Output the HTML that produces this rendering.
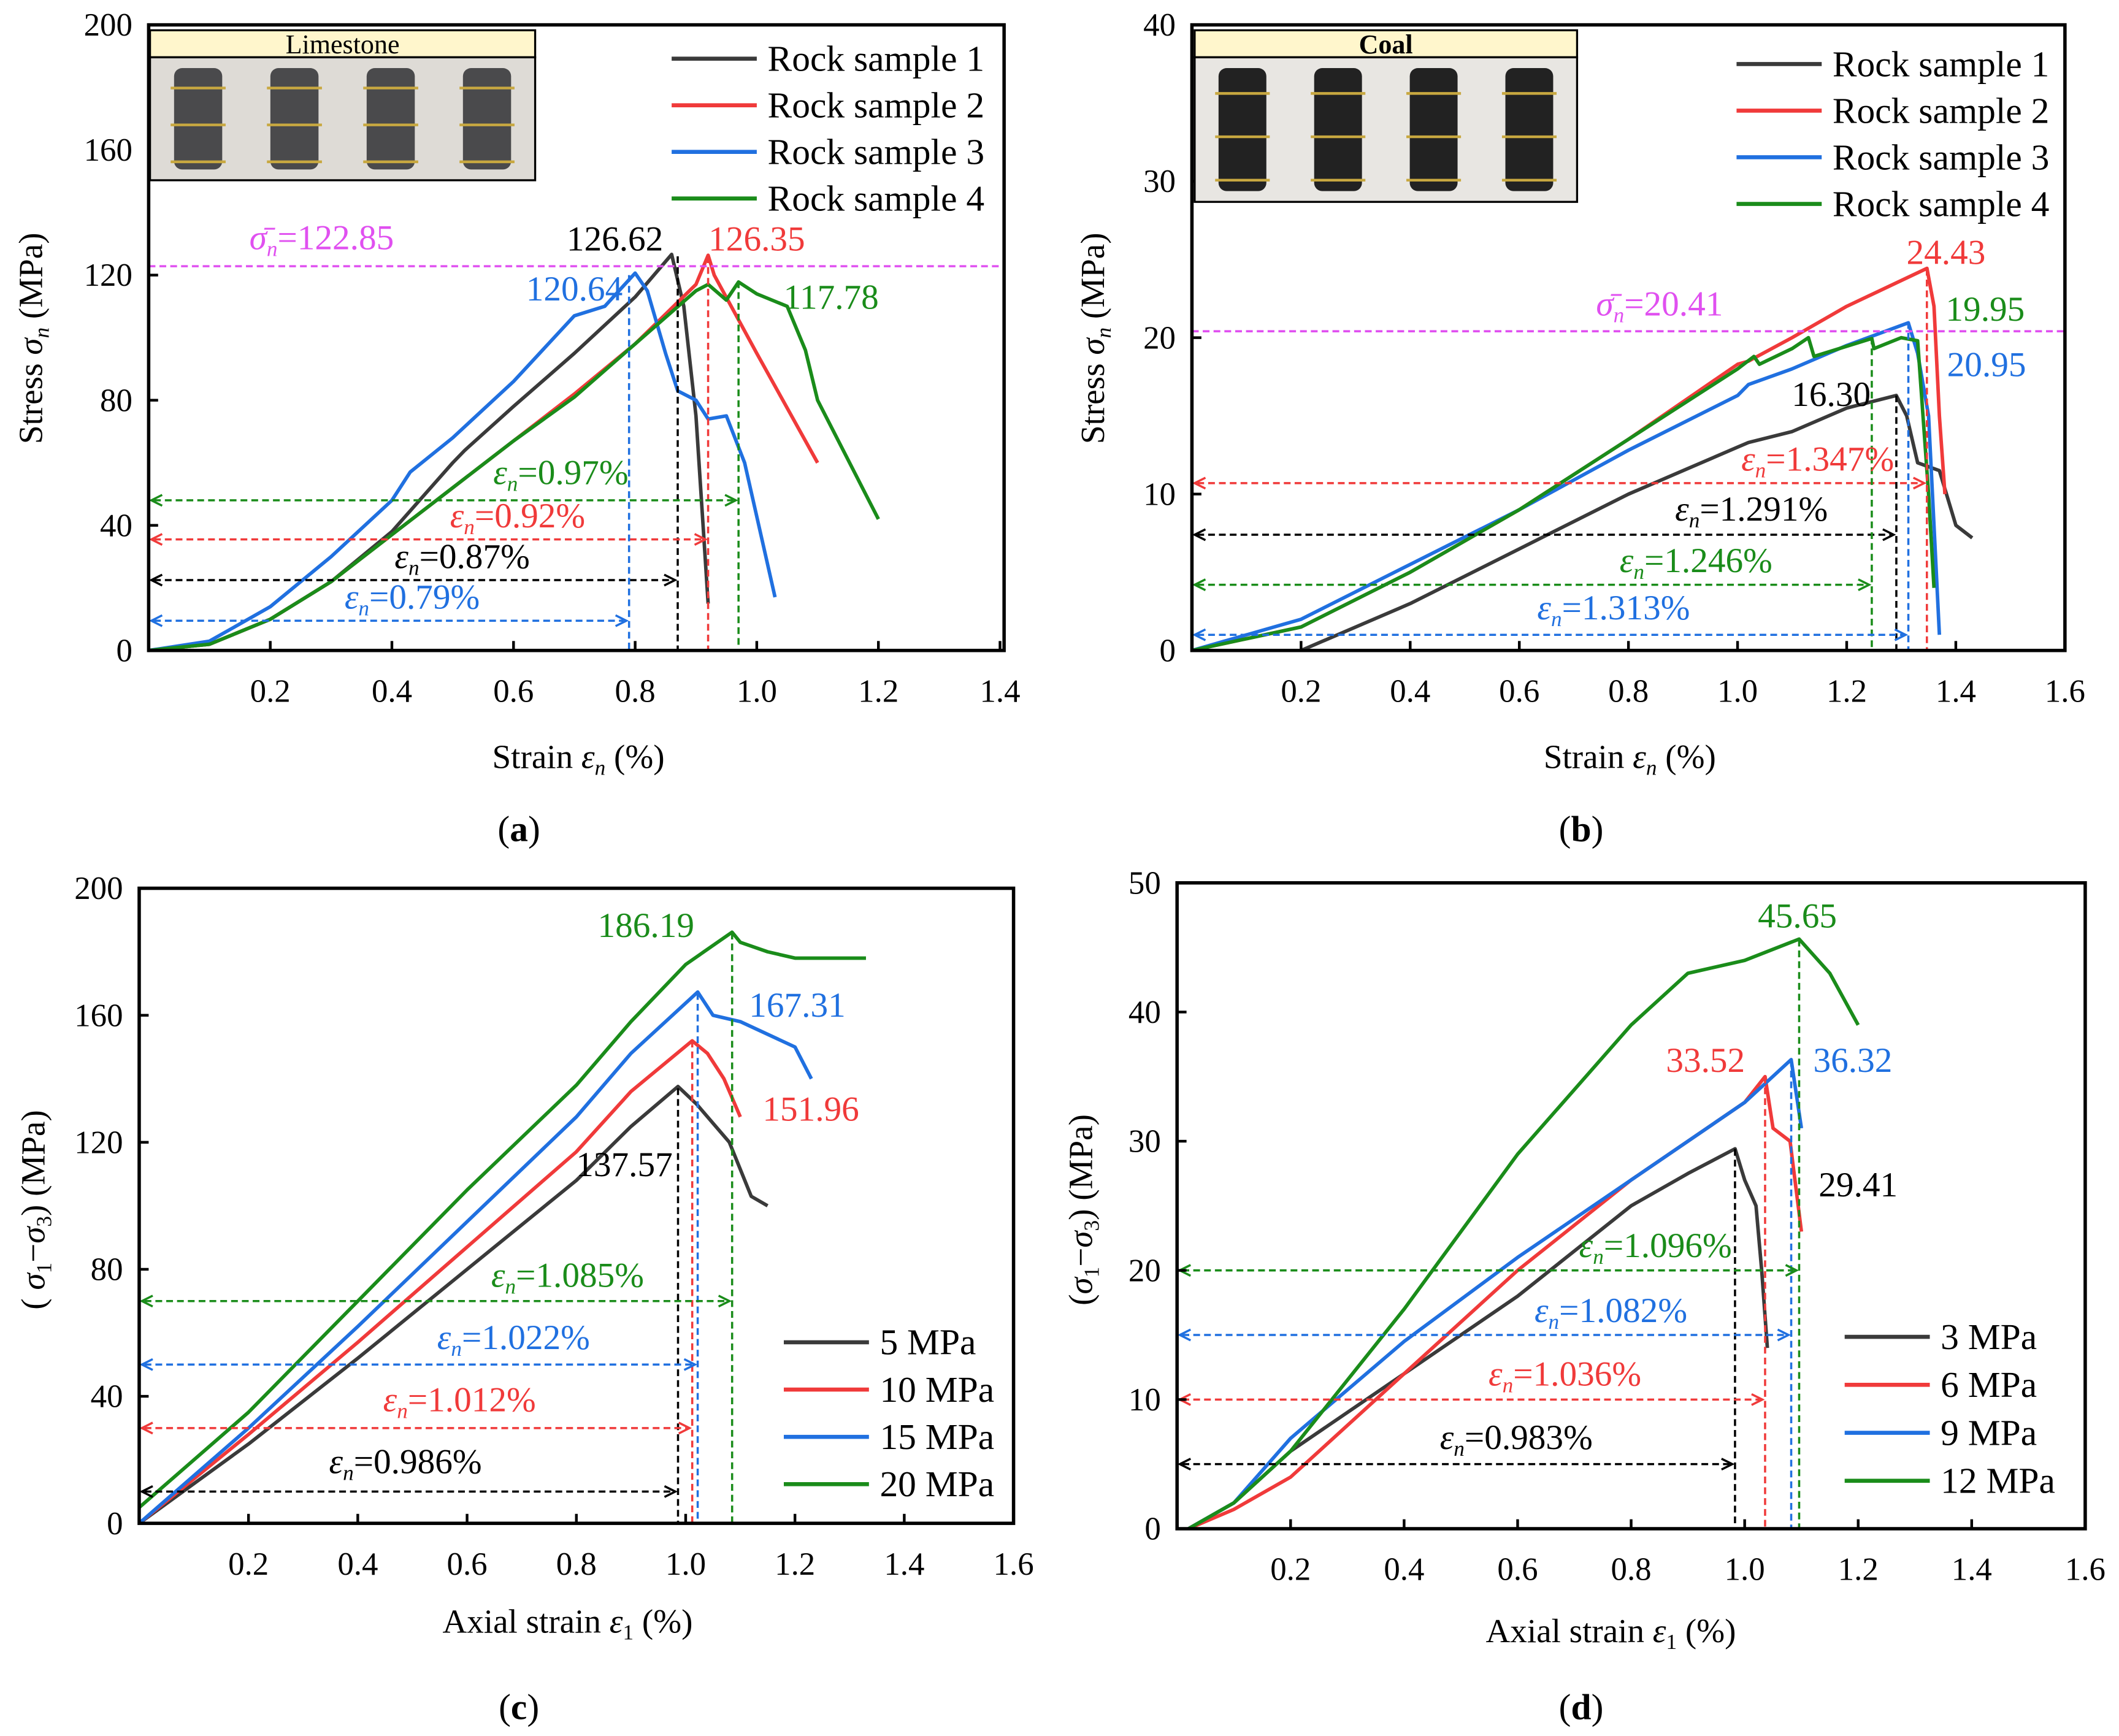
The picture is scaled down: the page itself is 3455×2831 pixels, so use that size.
<!DOCTYPE html>
<html><head><meta charset="utf-8">
<style>
html,body{margin:0;padding:0;background:#fff;}
svg{display:block;}
text{font-family:"Liberation Serif",serif;}
</style></head>
<body>
<svg id="fig" xmlns="http://www.w3.org/2000/svg" width="3455" height="2831" viewBox="0 0 1568 1284" font-family="Liberation Serif, serif"></svg>
<script>
// ---------- DATA ----------
const aS1x=[0,0.1,0.2,0.3,0.4,0.5,0.52,0.6,0.7,0.8,0.86,0.88,0.9,0.92];
const aS1y=[0,2,10,22,38,60,64,78,95,113,126.62,110,75,15];
const aS2x=[0,0.1,0.2,0.3,0.4,0.5,0.6,0.7,0.8,0.9,0.92,0.93,1.0,1.1];
const aS2y=[0,2,10,22,37,52,67,82,98,117,126.35,120,95,60];
const aS3x=[0,0.1,0.2,0.3,0.4,0.43,0.5,0.6,0.7,0.75,0.8,0.82,0.85,0.87,0.9,0.92,0.95,0.98,1.03];
const aS3y=[0,3,14,30,48,57,68,86,107,110,120.64,115,95,83,80,74,75,60,17];
const aS4x=[0,0.1,0.2,0.3,0.4,0.5,0.6,0.7,0.8,0.9,0.92,0.95,0.97,1.0,1.05,1.08,1.1,1.2];
const aS4y=[0,2,10,22,37,52,67,81,98,115,117,112,117.78,114,110,96,80,42];
const bS1x=[0.2,0.4,0.6,0.8,1.0,1.02,1.1,1.2,1.291,1.31,1.33,1.37,1.4,1.43];
const bS1y=[0,3,6.5,10,13,13.3,14,15.5,16.3,15,12,11.5,8,7.2];
const bS2x=[0,0.2,0.4,0.6,0.8,1.0,1.02,1.1,1.2,1.347,1.36,1.37,1.38];
const bS2y=[0,1.5,5,9,13.5,18.3,18.5,20,22,24.43,22,15,10];
const bS3x=[0,0.2,0.4,0.6,0.8,1.0,1.02,1.1,1.2,1.313,1.33,1.35,1.37];
const bS3y=[0,2,5.5,9,12.8,16.3,17,18,19.5,20.95,19,15,1];
const bS4x=[0,0.2,0.4,0.6,0.8,1.0,1.03,1.04,1.1,1.13,1.14,1.246,1.25,1.3,1.33,1.35,1.36];
const bS4y=[0,1.5,5,9,13.5,18,18.8,18.3,19.3,20,18.8,19.95,19.3,20,19.8,10,4];
const c5x=[0,0.2,0.4,0.6,0.8,0.9,0.986,1.02,1.08,1.12,1.15];
const c5y=[0,25,52,80,108,125,137.57,132,120,103,100];
const c10x=[0,0.2,0.4,0.6,0.8,0.9,1.012,1.04,1.07,1.1];
const c10y=[0,28,57,87,117,136,151.96,148,140,128];
const c15x=[0,0.2,0.4,0.6,0.8,0.9,1.022,1.05,1.1,1.2,1.23];
const c15y=[0,30,62,95,128,148,167.31,160,158,150,140];
const c20x=[0,0.2,0.4,0.6,0.8,0.9,1.0,1.085,1.1,1.15,1.2,1.3,1.33];
const c20y=[5,35,70,105,138,158,176,186.19,183,180,178,178,178];
const d3x=[0.02,0.1,0.2,0.4,0.6,0.8,0.9,0.983,1.0,1.02,1.03,1.04];
const d3y=[0,2,6,12,18,25,27.5,29.41,27,25,20,14];
const d6x=[0.02,0.1,0.2,0.4,0.6,0.8,1.0,1.036,1.05,1.08,1.1];
const d6y=[0,1.5,4,12,20,27,33,35,31,30,23];
const d9x=[0.02,0.1,0.2,0.4,0.6,0.8,1.0,1.082,1.1];
const d9y=[0,2,7,14.5,21,27,33,36.32,31];
const d12x=[0.02,0.1,0.2,0.4,0.6,0.8,0.9,1.0,1.096,1.15,1.2];
const d12y=[0,2,6,17,29,39,43,44,45.65,43,39];
const aTicksX=[0.2,0.4,0.6,0.8,1.0,1.2,1.4];
const aTicksY=[0,40,80,120,160,200];
const bTicksX=[0.2,0.4,0.6,0.8,1.0,1.2,1.4,1.6];
const bTicksY=[0,10,20,30,40];
const cTicksY=[0,40,80,120,160,200];
const dTicksY=[0,10,20,30,40,50];
const legendA=["Rock sample 1","Rock sample 2","Rock sample 3","Rock sample 4"];
const legendC=["5 MPa","10 MPa","15 MPa","20 MPa"];
const legendD=["3 MPa","6 MPa","9 MPa","12 MPa"];

const K="#3a3a3a",R="#f03a3a",B="#2070e0",G="#1a8c1a",M="#e050f0";
const NS="http://www.w3.org/2000/svg";
const FF="Liberation Serif, serif";
const svg=document.getElementById('fig');
function el(tag,attrs,parent){const e=document.createElementNS(NS,tag);for(const k in attrs)e.setAttribute(k,attrs[k]);(parent||svg).appendChild(e);return e;}
function txt(x,y,s,size,fill,anchor,name,parent){const t=el('text',{x:x,y:y,'font-size':size,'font-family':FF,fill:fill||'#000','text-anchor':anchor||'start'},parent);t.textContent=s;


return t;}
function richTxt(x,y,html,size,fill,anchor,name){const t=el('text',{x:x,y:y,'font-size':size,'font-family':FF,fill:fill,'text-anchor':anchor||'start'});t.innerHTML=html;


return t;}

function panel(p){
  const g=el('g',{});
  
  
  const sx=v=>p.x0+(v-0)/(p.xmax)*(p.x1-p.x0);
  const sy=v=>p.y0-(v)/(p.ymax)*(p.y0-p.y1);
  p.series.forEach((s,i)=>{
    const pts=s.x.map((v,j)=>sx(v).toFixed(1)+','+sy(s.y[j]).toFixed(1)).join(' ');
    const pl=el('polyline',{points:pts,fill:'none',stroke:s.c,'stroke-width':2.6,'stroke-linejoin':'round'},g);
    
    
  });
  p.marks.forEach((m,i)=>{
    const xx=sx(m.x),yy=sy(m.y);
    const ln=el('path',{d:`M${p.x0+4},${yy} L${xx-4},${yy} M${xx},${sy(m.top)} L${xx},${p.y0}`,stroke:m.c,'stroke-width':1.6,'stroke-dasharray':'5,3',fill:'none'},g);
    
    
    el('path',{d:`M${p.x0+10},${yy-4} L${p.x0+2},${yy} L${p.x0+10},${yy+4} M${xx-10},${yy-4} L${xx-2},${yy} L${xx-10},${yy+4}`,stroke:m.c,'stroke-width':1.6,fill:'none'},g);
  });
  if(p.mean!==undefined){
    const mm=el('line',{x1:p.x0,x2:p.x1,y1:sy(p.mean),y2:sy(p.mean),stroke:M,'stroke-width':1.6,'stroke-dasharray':'5,3'},g);
    
    
  }
  const fr=el('rect',{x:p.x0,y:p.y1,width:p.x1-p.x0,height:p.y0-p.y1,fill:'none',stroke:'#000','stroke-width':2.5},g);
  
  
  p.tx.forEach(v=>{const X=sx(v);el('line',{x1:X,x2:X,y1:p.y0,y2:p.y0-7,stroke:'#000','stroke-width':2},g);
    txt(X,p.y0+38,v.toFixed(1),24,'#000','middle',p.name+'-x-tick-'+v,g);});
  p.ty.forEach(v=>{const Y=sy(v);el('line',{x1:p.x0,x2:p.x0+7,y1:Y,y2:Y,stroke:'#000','stroke-width':2},g);
    txt(p.x0-12,Y+8,String(v),24,'#000','end',p.name+'-y-tick-'+v,g);});
  p.leg.forEach((s,i)=>{const y=p.ly+i*p.ldy;
    const l=el('line',{x1:p.lx,x2:p.lx+63,y1:y,y2:y,stroke:p.series[i].c,'stroke-width':3},g);
    
    
    txt(p.lx+71,y+9,s,27,'#000','start',p.name+'-legend-entry-'+(i+1),g);});
}
function photo(x,y,w,h,label,coal,name){
  const g=el('g',{});
  
  
  el('rect',{x:x,y:y,width:w,height:20,fill:'#fff6cc',stroke:'#000','stroke-width':1.5},g);
  const t=txt(x+w/2,y+17,label,20,'#000','middle',name+'-label',g);
  if(coal)t.setAttribute('font-weight','bold');
  el('rect',{x:x,y:y+20,width:w,height:h-20,fill:coal?'#e8e6e2':'#dedbd6',stroke:'#000','stroke-width':1.5},g);
  for(let i=0;i<4;i++){const cx=x+w*(i+0.5)/4;
    el('rect',{x:cx-w/16,y:y+28,width:w/8,height:h-36,rx:6,fill:coal?'#222':'#4a4a4c'},g);
    [0.25,0.55,0.85].forEach(f=>el('line',{x1:cx-w/14,x2:cx+w/14,y1:y+20+(h-20)*f,y2:y+20+(h-20)*f,stroke:'#c8a840','stroke-width':2},g));}
}

const pa={name:'panel-a',x0:110,x1:743,y0:481,y1:18,xmax:1.4067,ymax:200,tx:aTicksX,ty:aTicksY,mean:122.85,
 series:[{x:aS1x,y:aS1y,c:K},{x:aS2x,y:aS2y,c:R},{x:aS3x,y:aS3y,c:B},{x:aS4x,y:aS4y,c:G}],
 marks:[{x:0.87,y:22.5,top:126,c:'#000'},{x:0.92,y:35.5,top:126,c:R},{x:0.97,y:48,top:118,c:G},{x:0.79,y:9.5,top:120,c:B}],
 leg:legendA,lx:497,ly:43,ldy:34.5};
panel(pa);
photo(111,22,285,111,'Limestone',false,'limestone-photo');
const pb={name:'panel-b',x0:882,x1:1528,y0:481,y1:18,xmax:1.6,ymax:40,tx:bTicksX,ty:bTicksY,mean:20.41,
 series:[{x:bS1x,y:bS1y,c:K},{x:bS2x,y:bS2y,c:R},{x:bS3x,y:bS3y,c:B},{x:bS4x,y:bS4y,c:G}],
 marks:[{x:1.347,y:10.7,top:24.4,c:R},{x:1.291,y:7.4,top:16.3,c:'#000'},{x:1.246,y:4.2,top:20,c:G},{x:1.313,y:1.0,top:21,c:B}],
 leg:legendA,lx:1285,ly:47,ldy:34.5};
panel(pb);
photo(884,22,283,127,'Coal',true,'coal-photo');
const pc={name:'panel-c',x0:103,x1:750,y0:1127,y1:657,xmax:1.6,ymax:200,tx:bTicksX,ty:cTicksY,
 series:[{x:c5x,y:c5y,c:K},{x:c10x,y:c10y,c:R},{x:c15x,y:c15y,c:B},{x:c20x,y:c20y,c:G}],
 marks:[{x:0.986,y:10,top:137,c:'#000'},{x:1.012,y:30,top:152,c:R},{x:1.022,y:50,top:167,c:B},{x:1.085,y:70,top:186,c:G}],
 leg:legendC,lx:580,ly:993,ldy:35};
panel(pc);
const pd={name:'panel-d',x0:871,x1:1543,y0:1131,y1:653,xmax:1.6,ymax:50,tx:bTicksX,ty:dTicksY,
 series:[{x:d3x,y:d3y,c:K},{x:d6x,y:d6y,c:R},{x:d9x,y:d9y,c:B},{x:d12x,y:d12y,c:G}],
 marks:[{x:0.983,y:5,top:29.4,c:'#000'},{x:1.036,y:10,top:35,c:R},{x:1.082,y:15,top:36.3,c:B},{x:1.096,y:20,top:45.6,c:G}],
 leg:legendD,lx:1365,ly:989,ldy:35.5};
panel(pd);

richTxt(428,568,'Strain <tspan font-style="italic">ε</tspan><tspan font-size="16" dy="5" font-style="italic">n</tspan><tspan dy="-5"> (%)</tspan>',25,'#000','middle','panel-a-x-axis-title');
richTxt(1206,568,'Strain <tspan font-style="italic">ε</tspan><tspan font-size="16" dy="5" font-style="italic">n</tspan><tspan dy="-5"> (%)</tspan>',25,'#000','middle','panel-b-x-axis-title');
richTxt(420,1208,'Axial strain <tspan font-style="italic">ε</tspan><tspan font-size="16" dy="5">1</tspan><tspan dy="-5"> (%)</tspan>',25,'#000','middle','panel-c-x-axis-title');
richTxt(1192,1215,'Axial strain <tspan font-style="italic">ε</tspan><tspan font-size="16" dy="5">1</tspan><tspan dy="-5"> (%)</tspan>',25,'#000','middle','panel-d-x-axis-title');
const ya=richTxt(0,0,'Stress <tspan font-style="italic">σ</tspan><tspan font-size="16" dy="5" font-style="italic">n</tspan><tspan dy="-5"> (MPa)</tspan>',25,'#000','middle','panel-a-y-axis-title');ya.setAttribute('transform','translate(31,250) rotate(-90)');
const yb=richTxt(0,0,'Stress <tspan font-style="italic">σ</tspan><tspan font-size="16" dy="5" font-style="italic">n</tspan><tspan dy="-5"> (MPa)</tspan>',25,'#000','middle','panel-b-y-axis-title');yb.setAttribute('transform','translate(817,250) rotate(-90)');
const yc=richTxt(0,0,'( <tspan font-style="italic">σ</tspan><tspan font-size="16" dy="5">1</tspan><tspan dy="-5">−</tspan><tspan font-style="italic">σ</tspan><tspan font-size="16" dy="5">3</tspan><tspan dy="-5">) (MPa)</tspan>',25,'#000','middle','panel-c-y-axis-title');yc.setAttribute('transform','translate(33,895) rotate(-90)');
const yd=richTxt(0,0,'(<tspan font-style="italic">σ</tspan><tspan font-size="16" dy="5">1</tspan><tspan dy="-5">−</tspan><tspan font-style="italic">σ</tspan><tspan font-size="16" dy="5">3</tspan><tspan dy="-5">) (MPa)</tspan>',25,'#000','middle','panel-d-y-axis-title');yd.setAttribute('transform','translate(808,895) rotate(-90)');
richTxt(384,622,'(<tspan font-weight="bold">a</tspan>)',27,'#000','middle','panel-a-caption');
richTxt(1170,622,'(<tspan font-weight="bold">b</tspan>)',27,'#000','middle','panel-b-caption');
richTxt(384,1272,'(<tspan font-weight="bold">c</tspan>)',27,'#000','middle','panel-c-caption');
richTxt(1170,1272,'(<tspan font-weight="bold">d</tspan>)',27,'#000','middle','panel-d-caption');

const en='<tspan font-style="italic">ε</tspan><tspan font-size="16" dy="5" font-style="italic">n</tspan>';
const ann=[
 [238,184,'<tspan font-style="italic">σ̄</tspan><tspan font-size="16" dy="5" font-style="italic">n</tspan><tspan dy="-5">=122.85</tspan>',M,'middle'],
 [455,185,'126.62','#000','middle'],[560,185,'126.35',R,'middle'],[425,222,'120.64',B,'middle'],[615,228,'117.78',G,'middle'],
 [415,358,en+'<tspan dy="-5">=0.97%</tspan>',G,'middle'],[383,390,en+'<tspan dy="-5">=0.92%</tspan>',R,'middle'],
 [342,420,en+'<tspan dy="-5">=0.87%</tspan>','#000','middle'],[305,450,en+'<tspan dy="-5">=0.79%</tspan>',B,'middle'],
 [1228,233,'<tspan font-style="italic">σ̄</tspan><tspan font-size="16" dy="5" font-style="italic">n</tspan><tspan dy="-5">=20.41</tspan>',M,'middle'],
 [1440,195,'24.43',R,'middle'],[1469,237,'19.95',G,'middle'],[1470,278,'20.95',B,'middle'],[1355,300,'16.30','#000','middle'],
 [1345,348,en+'<tspan dy="-5">=1.347%</tspan>',R,'middle'],[1296,385,en+'<tspan dy="-5">=1.291%</tspan>','#000','middle'],
 [1255,423,en+'<tspan dy="-5">=1.246%</tspan>',G,'middle'],[1194,458,en+'<tspan dy="-5">=1.313%</tspan>',B,'middle'],
 [478,693,'186.19',G,'middle'],[590,752,'167.31',B,'middle'],[600,829,'151.96',R,'middle'],[462,870,'137.57','#000','middle'],
 [420,952,en+'<tspan dy="-5">=1.085%</tspan>',G,'middle'],[380,998,en+'<tspan dy="-5">=1.022%</tspan>',B,'middle'],
 [340,1044,en+'<tspan dy="-5">=1.012%</tspan>',R,'middle'],[300,1090,en+'<tspan dy="-5">=0.986%</tspan>','#000','middle'],
 [1330,686,'45.65',G,'middle'],[1262,793,'33.52',R,'middle'],[1371,793,'36.32',B,'middle'],[1375,885,'29.41','#000','middle'],
 [1225,930,en+'<tspan dy="-5">=1.096%</tspan>',G,'middle'],[1192,978,en+'<tspan dy="-5">=1.082%</tspan>',B,'middle'],
 [1158,1025,en+'<tspan dy="-5">=1.036%</tspan>',R,'middle'],[1122,1072,en+'<tspan dy="-5">=0.983%</tspan>','#000','middle']
];
ann.forEach((a,i)=>{richTxt(a[0],a[1],a[2],26,a[3],a[4],'annotation-'+(i+1));});
</script>
</body></html>
